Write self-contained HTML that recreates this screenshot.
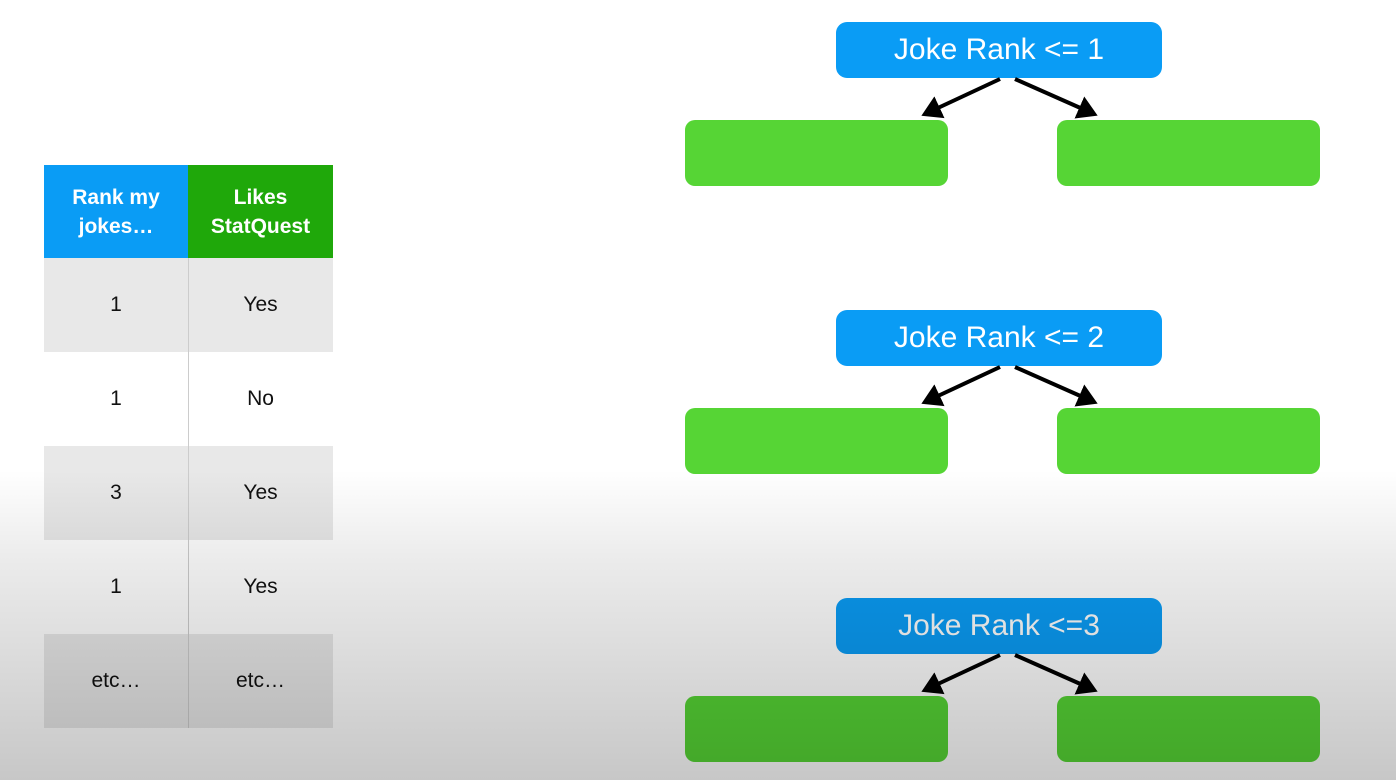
<!DOCTYPE html>
<html><head><style>
body{margin:0;width:1396px;height:780px;background:#fff;position:relative;overflow:hidden;font-family:"Liberation Sans",Arial,sans-serif}
.c{position:absolute;display:flex;align-items:center;justify-content:center;text-align:center}
.h{color:#fff;font-weight:bold;font-size:21px;line-height:29px}
.t{font-size:21px;color:#111}
.root{position:absolute;left:836px;width:326px;height:56px;background:#0a9cf5;border-radius:11px;color:#fff;font-size:30px;display:flex;align-items:center;justify-content:center}
.g{position:absolute;width:263px;height:66px;background:#56d535;border-radius:10px}
#ov{position:absolute;left:0;top:0;width:1396px;height:780px;background:linear-gradient(to bottom,rgba(0,0,0,0) 0,rgba(0,0,0,0) 470px,rgba(0,0,0,0.08) 560px,rgba(0,0,0,0.22) 780px)}
</style></head><body>
<div class="c h" style="left:44px;top:165px;width:144px;height:93px;background:#0a9cf5">Rank my<br>jokes…</div>
<div class="c h" style="left:188px;top:165px;width:145px;height:93px;background:#1fa80a">Likes<br>StatQuest</div>
<div class="c t" style="left:44px;top:258px;width:289px;height:94px;background:#e8e8e8"></div>
<div class="c t" style="left:44px;top:446px;width:289px;height:94px;background:#e8e8e8"></div>
<div class="c t" style="left:44px;top:634px;width:289px;height:94px;background:#e8e8e8"></div>
<div style="position:absolute;left:188px;top:258px;width:1px;height:470px;background:#ccc"></div>
<div class="c t" style="left:44px;top:258px;width:144px;height:94px">1</div>
<div class="c t" style="left:188px;top:258px;width:145px;height:94px">Yes</div>
<div class="c t" style="left:44px;top:352px;width:144px;height:94px">1</div>
<div class="c t" style="left:188px;top:352px;width:145px;height:94px">No</div>
<div class="c t" style="left:44px;top:446px;width:144px;height:94px">3</div>
<div class="c t" style="left:188px;top:446px;width:145px;height:94px">Yes</div>
<div class="c t" style="left:44px;top:540px;width:144px;height:94px">1</div>
<div class="c t" style="left:188px;top:540px;width:145px;height:94px">Yes</div>
<div class="c t" style="left:44px;top:634px;width:144px;height:94px">etc…</div>
<div class="c t" style="left:188px;top:634px;width:145px;height:94px">etc…</div>

<div class="root" style="top:22px">Joke Rank &lt;= 1</div>
<div class="g" style="left:685px;top:120px"></div><div class="g" style="left:1057px;top:120px"></div>
<div class="root" style="top:310px">Joke Rank &lt;= 2</div>
<div class="g" style="left:685px;top:408px"></div><div class="g" style="left:1057px;top:408px"></div>
<div class="root" style="top:598px">Joke Rank &lt;=3</div>
<div class="g" style="left:685px;top:696px"></div><div class="g" style="left:1057px;top:696px"></div>

<svg style="position:absolute;left:0;top:0" width="1396" height="780">
<defs><marker id="a" markerWidth="6" markerHeight="6" refX="4" refY="3" orient="auto" markerUnits="strokeWidth"><path d="M0,0 L5,3 L0,6 z" fill="#000"/></marker></defs>
<g stroke="#000" stroke-width="4" marker-end="url(#a)">
<line x1="1000" y1="79" x2="925" y2="114"/><line x1="1015" y1="79" x2="1094" y2="114"/>
<line x1="1000" y1="367" x2="925" y2="402"/><line x1="1015" y1="367" x2="1094" y2="402"/>
<line x1="1000" y1="655" x2="925" y2="690"/><line x1="1015" y1="655" x2="1094" y2="690"/>
</g></svg>
<div id="ov"></div>
</body></html>
